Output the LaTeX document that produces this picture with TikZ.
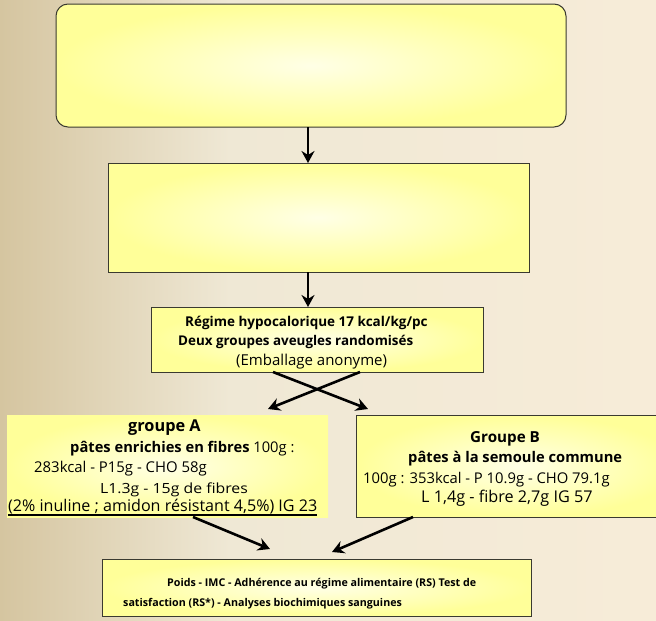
\documentclass[tikz,border=0pt]{standalone}
\usepackage{fontspec}
\setmainfont{Open Sans}
\usetikzlibrary{arrows.meta}
\definecolor{bgL}{HTML}{D5C5A0}
\definecolor{bgM}{HTML}{EFE8D5}
\definecolor{bgR}{HTML}{F7ECD8}
\definecolor{boxout}{HTML}{FFFF99}
\definecolor{boxin}{HTML}{FFFFE6}
\definecolor{edge}{HTML}{3A3A30}
\begin{document}
\begin{tikzpicture}[x=1pt,y=-1pt,
  box/.style={draw=edge, line width=1pt, inner sep=0pt, outer sep=0pt,
    shading=radial, inner color=boxin, outer color=boxout},
  plainbox/.style={inner sep=0pt, outer sep=0pt, shading=radial, inner color=boxin, outer color=boxout},
  txt/.style={inner sep=0pt, anchor=mid west, text=black},
  arr/.style={line width=2.6pt, -{Stealth[length=12pt,width=13pt,inset=4pt]}}
]
\useasboundingbox (0,0) rectangle (656,621);
\clip (0,0) rectangle (656,621);
\shade[left color=bgL, right color=bgM] (0,0) rectangle (230,621);
\shade[left color=bgM, right color=bgR] (229.5,0) rectangle (656,621);

% boxes
\node[box, rounded corners=12pt, minimum width=510pt, minimum height=123pt] (box1) at (311,65.5) {};
\node[box, minimum width=421pt, minimum height=109pt] (box2) at (318.5,217.5) {};
\node[box, minimum width=332pt, minimum height=65pt] (box3) at (317,339.5) {};
\node[plainbox, minimum width=321pt, minimum height=102pt] (boxA) at (167.5,466) {};
\node[box, minimum width=324pt, minimum height=102pt] (boxB) at (518,466) {};
\node[box, minimum width=429pt, minimum height=57pt] (boxC) at (316.5,587.5) {};

% texts box 3
\node[txt, font=\fontsize{13.5}{15}\selectfont\bfseries] (t31) at (185,324) {Régime hypocalorique 17 kcal/kg/pc};
\node[txt, font=\fontsize{13.4}{15}\selectfont\bfseries] (t32) at (178,343) {Deux groupes aveugles randomisés};
\node[txt, font=\fontsize{15}{17}\selectfont] (t33) at (236,362.5) {(Emballage anonyme)};

% texts box A
\node[txt, font=\fontsize{16.3}{18}\selectfont\bfseries] (tA1) at (128,429) {groupe A};
\node[txt, font=\fontsize{14.7}{17}\selectfont] (tA2) at (70,450) {\textbf{pâtes enrichies en fibres} 100g :};
\node[txt, font=\fontsize{14.9}{17}\selectfont] (tA3) at (34,470) {283kcal - P15g - CHO 58g};
\node[txt, font=\fontsize{14}{15}\selectfont\addfontfeature{FakeStretch=1.13}] (tA4) at (100,490.5) {L1.3g - 15g de fibres};
\node[txt, font=\fontsize{16.1}{18}\selectfont] (tA5) at (8,509) {(2\% inuline ; amidon résistant 4,5\%) IG 23};
\draw[line width=1.6pt] ([yshift=-3.5pt]tA5.base west) -- ([yshift=-3.5pt]tA5.base east);

% texts box B
\node[txt, font=\fontsize{15.2}{17}\selectfont\bfseries] (tB1) at (470,440) {Groupe B};
\node[txt, font=\fontsize{14.7}{17}\selectfont\bfseries] (tB2) at (408,460) {pâtes à la semoule commune};
\node[txt, font=\fontsize{14.8}{17}\selectfont] (tB3) at (363,480.5) {100g : 353kcal - P 10.9g - CHO 79.1g};
\node[txt, font=\fontsize{16.2}{18}\selectfont] (tB4) at (421,499.5) {L 1,4g - fibre 2,7g IG 57};

% texts bottom box
\node[txt, font=\fontsize{10.7}{12}\selectfont\bfseries] (tC1) at (167,584) {Poids - IMC - Adhérence au régime alimentaire (RS) Test de};
\node[txt, font=\fontsize{10.7}{12}\selectfont\bfseries] (tC2) at (123,604) {satisfaction (RS*) - Analyses biochimiques sanguines};

% connector coordinates
\coordinate (ax) at (308,0);
\coordinate (s1) at (273,0);
\coordinate (s2) at (360,0);
\coordinate (e1) at (368,409);
\coordinate (e2) at (268,409);
\coordinate (s3) at (193,0);
\coordinate (s4) at (413,0);
\coordinate (e3) at (270,549);
\coordinate (e4) at (332,552);

\draw[arr] (box1.south -| ax) -- (box2.north -| ax);
\draw[arr] (box2.south -| ax) -- (box3.north -| ax);
\draw[arr] (box3.south -| s1) -- (e1);
\draw[arr] (box3.south -| s2) -- (e2);
\draw[arr] (boxA.south -| s3) -- (e3);
\draw[arr] (boxB.south -| s4) -- (e4);
\end{tikzpicture}
\end{document}
